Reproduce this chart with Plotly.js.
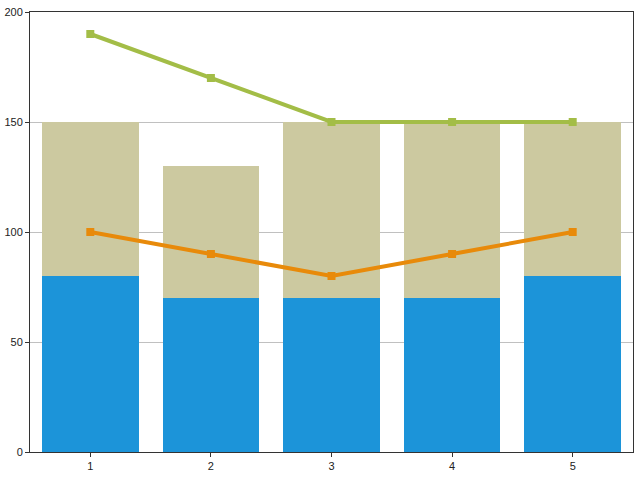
<!DOCTYPE html>
<html><head><meta charset="utf-8">
<script src="https://cdn.plot.ly/plotly-3.0.1.min.js"></script>
<style>body{margin:0;}#chart{width:640px;height:480px;}</style>
</head><body><div id="chart"></div>
<script>
const categories = [1, 2, 3, 4, 5];
const barBottom = [80, 70, 70, 70, 80];
const barTop = [70, 60, 80, 80, 70];
const lineGreen = [190, 170, 150, 150, 150];
const lineOrange = [100, 90, 80, 90, 100];

const traces = [
  {type:'bar', x:categories, y:barBottom, marker:{color:'#1c94d9'}, hoverinfo:'none'},
  {type:'bar', x:categories, y:barTop, marker:{color:'#ccc9a0'}, hoverinfo:'none'},
  {type:'scatter', mode:'lines+markers', x:categories, y:lineGreen,
   line:{color:'#a3bd47', width:4}, marker:{symbol:'square', size:8, color:'#a3bd47'}},
  {type:'scatter', mode:'lines+markers', x:categories, y:lineOrange,
   line:{color:'#e88a0a', width:4}, marker:{symbol:'square', size:8, color:'#e88a0a'}}
];
const layout = {
  width:640, height:480, barmode:'stack', bargap:0.2, showlegend:false,
  margin:{l:30, r:7, t:12, b:28},
  paper_bgcolor:'#ffffff', plot_bgcolor:'#ffffff',
  font:{family:'Liberation Sans, Arial, sans-serif', size:11, color:'#222'},
  xaxis:{type:'linear', range:[0.5,5.5], tickvals:categories, ticktext:categories.map(String),
    showgrid:false, zeroline:false, showline:true, linecolor:'#333', linewidth:1, mirror:true,
    ticks:'outside', ticklen:4, tickcolor:'#333'},
  yaxis:{range:[0,200], tickvals:[0,50,100,150,200], showgrid:true, gridcolor:'#c0c0c0',
    zeroline:false, showline:true, linecolor:'#333', linewidth:1, mirror:true,
    ticks:'outside', ticklen:4, tickcolor:'#333'}
};
Plotly.newPlot('chart', traces, layout, {displayModeBar:false, staticPlot:true});
</script></body></html>
